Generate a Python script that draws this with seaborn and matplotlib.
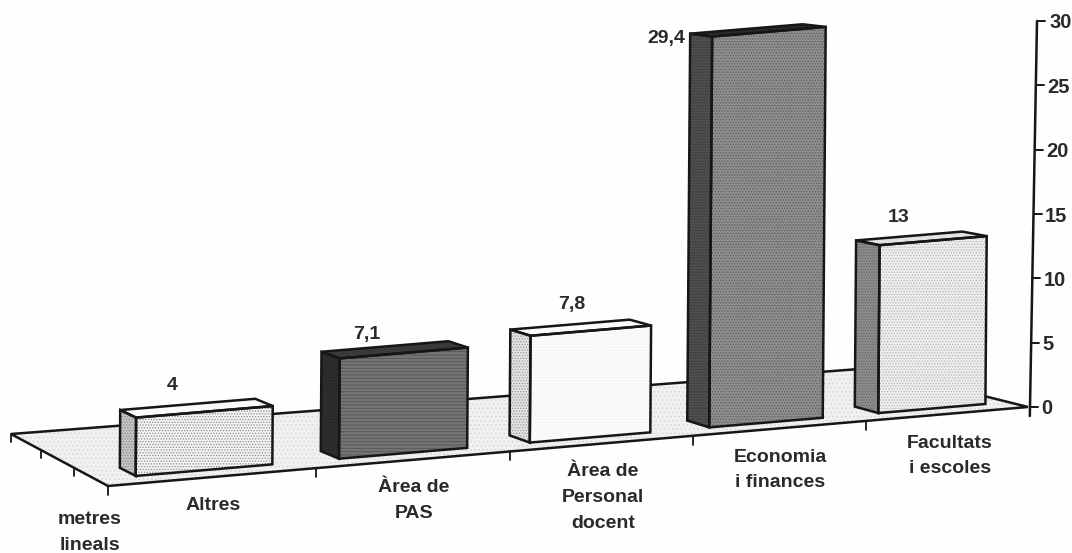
import numpy as np
import matplotlib
matplotlib.use("Agg")
import matplotlib.pyplot as plt
from matplotlib.patches import Polygon
from matplotlib.transforms import Affine2D
import seaborn as sns

# ---- data ----
CATEGORIES = ["Altres", "Àrea de\nPAS", "Àrea de\nPersonal\ndocent", "Economia\ni finances", "Facultats\ni escoles"]
VALUES = [4, 7.1, 7.8, 29.4, 13]
VALUE_LABELS = ["4", "7,1", "7,8", "29,4", "13"]
AXIS_TICKS = [0, 5, 10, 15, 20, 25, 30]
UNIT_LABEL = "metres\nlineals"

# ---- layout / style ----
W, H = 1072, 553
FLOOR_CORNERS = {(0, 0): (108, 486), (5, 0): (1028, 407), (0, 1): (11, 434), (5, 1): (872, 368)}
BAR_U = (0.19, 0.855)
BAR_D = (0.118, 0.268)
BACK_SHRINK = 0.99
CAT_LABEL_POS = [(213, 506), (414, 488), (603, 472), (780, 457), (950, 443)]
VAL_LABEL_POS = [(172, 386), (367, 334), (572, 304), (666, 39), (899, 218)]
FRONT = ["#f3f3f3", "#747474", "#fcfcfc", "#8e8e8e", "#eeeeee"]
FRONT_DOT = ["#8a8a8a", "#555555", "#f0f0f0", "#5e5e5e", "#b5b5b5"]
SIDE = ["#c4c4c4", "#2e2e2e", "#e2e2e2", "#505050", "#8c8c8c"]
SIDE_DOT = ["#888888", "#222222", "#999999", "#333333", "#666666"]
TOP = ["#fafafa", "#3a3a3a", "#fafafa", "#2a2a2a", "#e2e2e2"]
INK = "#161616"
TEXT = "#2a2a2a"
LW = 1.8
FS = 14

sns.set_theme(style="white")
plt.rcParams["font.family"] = ["Liberation Sans", "DejaVu Sans"]
plt.rcParams["hatch.linewidth"] = 0.6

fig = plt.figure(figsize=(W / 100, H / 100), dpi=100, facecolor="#fefefe")
ax = fig.add_axes([0, (H - 407) / H, 1030 / W, (407 - 21) / H])
ax.set_facecolor("none")
px = Affine2D().scale(1, -1).translate(0, H)  # reference pixels -> display


# floor homography
def solve_h(corners):
    A, b = [], []
    for (u, d), (x, y) in corners.items():
        A.append([u, d, 1, 0, 0, 0, -u * x, -d * x]); b.append(x)
        A.append([0, 0, 0, u, d, 1, -u * y, -d * y]); b.append(y)
    return np.append(np.linalg.solve(np.array(A, float), np.array(b, float)), 1).reshape(3, 3)


HM = solve_h(FLOOR_CORNERS)


def floor(u, d):
    p = HM @ np.array([u, d, 1.0])
    return p[:2] / p[2]


def unit_height(u, d):
    ref = (HM @ np.array([5, 0, 1.0]))[2]
    w = (HM @ np.array([u, d, 1.0]))[2]
    return (407 - 21) / 30 * ref / w


SLANT = 0.1  # px of lean per value unit (scan rotation)


def lift(p, v, s):
    return np.array([p[0] + SLANT * v, p[1] - s * v])


# bars through seaborn, in true value units
sns.barplot(x=CATEGORIES, y=VALUES, hue=CATEGORIES, palette=FRONT, dodge=False,
            legend=False, width=0.8, ax=ax, saturation=1)
ax.set_ylim(0, 30)
ax.set_xlim(-0.5, 4.5)

for i, (rect, v) in enumerate(zip(ax.patches, VALUES)):
    u0, u1 = i + BAR_U[0], i + BAR_U[1]
    fl, fr = floor(u0, BAR_D[0]), floor(u1, BAR_D[0])
    bl, br = floor(u0, BAR_D[1]), floor(u1, BAR_D[1])
    s = unit_height((u0 + u1) / 2, BAR_D[0])
    x0, wd = rect.get_x(), rect.get_width()
    # affine: bar's data rectangle -> sheared front face in reference pixels
    ex = (fr - fl) / wd
    ey = np.array([SLANT, -s])
    m = np.array([[ex[0], ey[0], fl[0] - ex[0] * x0],
                  [ex[1], ey[1], fl[1] - ex[1] * x0],
                  [0, 0, 1]])
    rect.set_transform(Affine2D(m) + px)
    rect.set_clip_on(False)
    rect.set_zorder(4)
    rect.set_linewidth(0)
    rect.set_edgecolor(FRONT_DOT[i])
    rect.set_hatch("-----" if i in (1,) else "......")
    ftl, ftr = lift(fl, v, s), lift(fr, v, s)
    btl, btr = lift(bl, v, s * BACK_SHRINK), lift(br, v, s * BACK_SHRINK)
    ax.add_patch(Polygon([bl, fl, ftl, btl], closed=True, facecolor=SIDE[i], edgecolor=SIDE_DOT[i],
                         hatch="......", lw=0, transform=px, clip_on=False, zorder=4))
    ax.add_patch(Polygon([btl, ftl, ftr, btr], closed=True, facecolor=TOP[i], edgecolor=INK,
                         lw=LW, transform=px, clip_on=False, zorder=4))
    for poly in ([fl, fr, ftr, ftl], [bl, fl, ftl, btl]):
        ax.add_patch(Polygon(poly, closed=True, fill=False, edgecolor=INK, lw=LW,
                             transform=px, clip_on=False, zorder=5))
    ax.text(*VAL_LABEL_POS[i], VALUE_LABELS[i], transform=px, ha="center", va="center",
            fontsize=FS, fontweight="bold", color=TEXT, zorder=6)
    for k, line in enumerate(CATEGORIES[i].split("\n")):
        ax.text(CAT_LABEL_POS[i][0], CAT_LABEL_POS[i][1] + 25.5 * k, line, transform=px, ha="center",
                va="center", fontsize=FS, fontweight="bold", color=TEXT, zorder=6)

for k, line in enumerate(UNIT_LABEL.split("\n")):
    ax.text(90, 520 + 25 * k, line, transform=px, ha="center", va="center",
            fontsize=FS, fontweight="bold", color=TEXT)

# floor
corners = [floor(0, 0), floor(5, 0), floor(5, 1), floor(0, 1)]
ax.add_patch(Polygon(corners, closed=True, facecolor="#f0f0f0", edgecolor="#d6d6d6", hatch="....",
                     lw=0, transform=px, clip_on=False, zorder=1))
ax.add_patch(Polygon(corners, closed=True, fill=False, edgecolor=INK, lw=LW, transform=px,
                     clip_on=False, zorder=2))
for u in range(0, 5):
    p = floor(u, 0)
    ax.plot([p[0], p[0]], [p[1], p[1] + 9], color=INK, lw=1.3, transform=px, clip_on=False, zorder=2)
for d in (1 / 3, 2 / 3, 1):
    p = floor(0, d)
    ax.plot([p[0], p[0]], [p[1], p[1] + 8], color=INK, lw=1.3, transform=px, clip_on=False, zorder=2)

# value axis: real tick labels, axis line drawn with the slight lean of the scan
ax.yaxis.tick_right()
ax.set_yticks(AXIS_TICKS)
ax.set_yticklabels([str(t) for t in AXIS_TICKS], fontsize=FS + 0.5, fontweight="bold", color=TEXT)
ax.tick_params(axis="y", length=0, right=False, labelright=True)
for tick, t in zip(ax.yaxis.get_major_ticks(), AXIS_TICKS):
    tick.set_pad((11 + 8 * t / 30) * 0.72)
ax.set_xticks([])
ax.set_xlabel(""); ax.set_ylabel("")
for sp in ax.spines.values():
    sp.set_visible(False)

LEAN = 7 / 30
ax_x = lambda t: 1030 + LEAN * t
ax_y = lambda t: 407 - (407 - 21) / 30 * t
ax.plot([ax_x(-0.7), ax_x(30)], [ax_y(-0.7), ax_y(30)], color=INK, lw=LW, transform=px, clip_on=False, zorder=3)
for t in AXIS_TICKS:
    ax.plot([ax_x(t), ax_x(t) + 8], [ax_y(t), ax_y(t)], color=INK, lw=1.4, transform=px, clip_on=False, zorder=3)

fig.savefig("out.png", dpi=100, facecolor=fig.get_facecolor())
